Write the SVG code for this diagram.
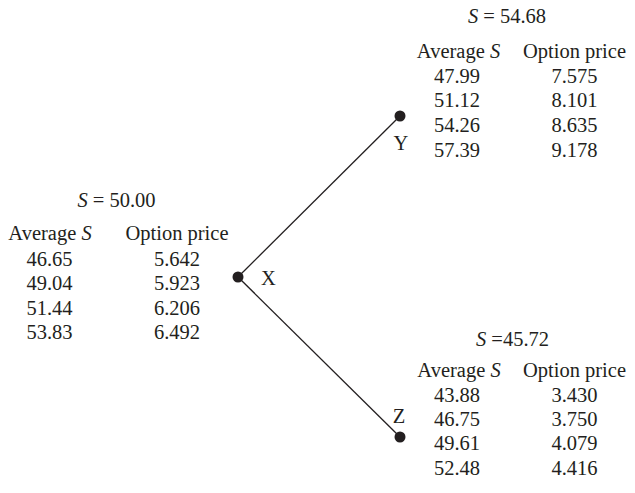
<svg xmlns="http://www.w3.org/2000/svg" width="635" height="493" viewBox="0 0 635 493">
<style>
text{font-family:"Liberation Serif","Times New Roman",serif;font-size:20.5px;fill:#231f20;text-anchor:middle}
.i{font-style:italic}
.edge{stroke:#231f20;stroke-width:1.3;fill:none}
.dot{fill:#231f20}
.lbl{text-anchor:start}
</style>
<rect width="635" height="493" fill="#fff"/>
<g id="connectors">
<line class="edge" x1="238" y1="277" x2="400" y2="116"/>
<line class="edge" x1="238" y1="277" x2="400" y2="437"/>
</g>
<g id="node-X">
<circle class="dot" cx="238" cy="277" r="5.5"/>
<text class="lbl" x="261" y="285">X</text>
<text x="116.5" y="207"><tspan class="i">S</tspan> = 50.00</text>
<text x="50" y="240">Average <tspan class="i">S</tspan></text>
<text x="177" y="240">Option price</text>
<text x="49.5" y="266">46.65</text><text x="177" y="266">5.642</text>
<text x="49.5" y="290">49.04</text><text x="177" y="290">5.923</text>
<text x="49.5" y="314.5">51.44</text><text x="177" y="314.5">6.206</text>
<text x="49.5" y="339">53.83</text><text x="177" y="339">6.492</text>
</g>
<g id="node-Y">
<circle class="dot" cx="400" cy="116" r="5.5"/>
<text x="401" y="150">Y</text>
<text x="507" y="23"><tspan class="i">S</tspan> = 54.68</text>
<text x="458.5" y="58">Average <tspan class="i">S</tspan></text>
<text x="574.5" y="58">Option price</text>
<text x="457" y="82.5">47.99</text><text x="574.5" y="82.5">7.575</text>
<text x="457" y="107.3">51.12</text><text x="574.5" y="107.3">8.101</text>
<text x="457" y="131.7">54.26</text><text x="574.5" y="131.7">8.635</text>
<text x="457" y="156.5">57.39</text><text x="574.5" y="156.5">9.178</text>
</g>
<g id="node-Z">
<circle class="dot" cx="400" cy="437" r="5.5"/>
<text x="399" y="423">Z</text>
<text x="512.5" y="346"><tspan class="i">S</tspan> =45.72</text>
<text x="459" y="377">Average <tspan class="i">S</tspan></text>
<text x="574.5" y="377">Option price</text>
<text x="457" y="402">43.88</text><text x="574.5" y="402">3.430</text>
<text x="457" y="426">46.75</text><text x="574.5" y="426">3.750</text>
<text x="457" y="450">49.61</text><text x="574.5" y="450">4.079</text>
<text x="457" y="475">52.48</text><text x="574.5" y="475">4.416</text>
</g>
</svg>
